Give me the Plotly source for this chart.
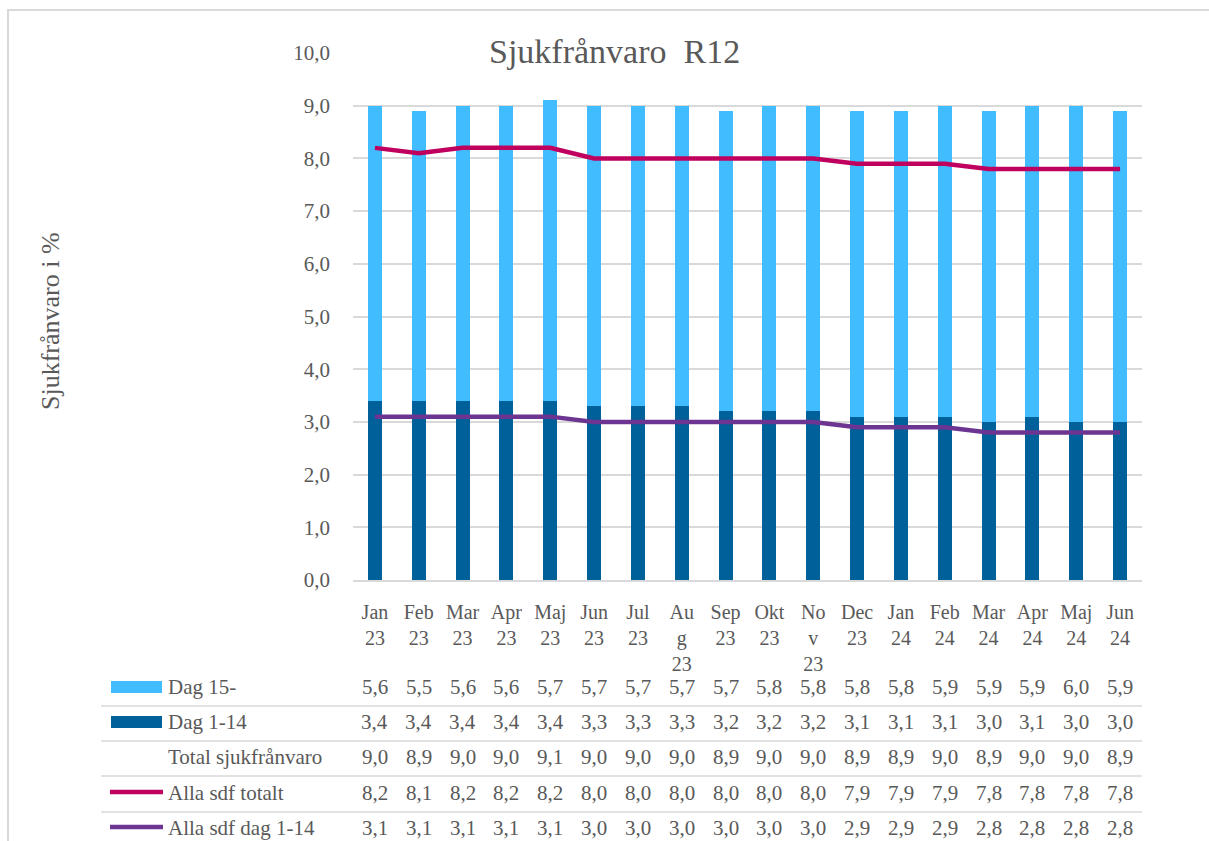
import plotly.graph_objects as go

categories = ["Jan<br>23", "Feb<br>23", "Mar<br>23", "Apr<br>23", "Maj<br>23", "Jun<br>23",
              "Jul<br>23", "Au<br>g<br>23", "Sep<br>23", "Okt<br>23", "No<br>v<br>23", "Dec<br>23",
              "Jan<br>24", "Feb<br>24", "Mar<br>24", "Apr<br>24", "Maj<br>24", "Jun<br>24"]
dag15 = [5.6, 5.5, 5.6, 5.6, 5.7, 5.7, 5.7, 5.7, 5.7, 5.8, 5.8, 5.8, 5.8, 5.9, 5.9, 5.9, 6.0, 5.9]
dag1_14 = [3.4, 3.4, 3.4, 3.4, 3.4, 3.3, 3.3, 3.3, 3.2, 3.2, 3.2, 3.1, 3.1, 3.1, 3.0, 3.1, 3.0, 3.0]
total = [9.0, 8.9, 9.0, 9.0, 9.1, 9.0, 9.0, 9.0, 8.9, 9.0, 9.0, 8.9, 8.9, 9.0, 8.9, 9.0, 9.0, 8.9]
alla_tot = [8.2, 8.1, 8.2, 8.2, 8.2, 8.0, 8.0, 8.0, 8.0, 8.0, 8.0, 7.9, 7.9, 7.9, 7.8, 7.8, 7.8, 7.8]
alla_1_14 = [3.1, 3.1, 3.1, 3.1, 3.1, 3.0, 3.0, 3.0, 3.0, 3.0, 3.0, 2.9, 2.9, 2.9, 2.8, 2.8, 2.8, 2.8]
y_ticks = [0, 1, 2, 3, 4, 5, 6, 7, 8, 9, 10]

FONT = "Liberation Serif"
TXT = "#595959"
GRID = "#D9D9D9"
C_LIGHT = "#41BCFF"
C_DARK = "#00609A"
C_MAG = "#C0005E"
C_PUR = "#6C3592"

x_idx = list(range(len(categories)))

fig = go.Figure()
fig.add_trace(go.Bar(x=x_idx, y=dag1_14, name="Dag 1-14", marker_color=C_DARK, marker_line_width=0))
fig.add_trace(go.Bar(x=x_idx, y=dag15, name="Dag 15-", marker_color=C_LIGHT, marker_line_width=0))
fig.add_trace(go.Scatter(x=x_idx, y=alla_tot, name="Alla sdf totalt", mode="lines",
                         line=dict(color=C_MAG, width=4.5)))
fig.add_trace(go.Scatter(x=x_idx, y=alla_1_14, name="Alla sdf dag 1-14", mode="lines",
                         line=dict(color=C_PUR, width=4.5)))

W, H = 1209, 841
L, R, T, B = 353, 67, 53, 261
pw = W - L - R
ph = H - T - B


def px2x(px):
    return (px - L) / pw


def py2y(py):
    return (H - B - py) / ph


annotations = []
shapes = []

# table rows
rows = [
    ("Dag 15-", dag15, 687, "bar", C_LIGHT),
    ("Dag 1-14", dag1_14, 722, "bar", C_DARK),
    ("Total sjukfrånvaro", total, 757, None, None),
    ("Alla sdf totalt", alla_tot, 793, "line", C_MAG),
    ("Alla sdf dag 1-14", alla_1_14, 828, "line", C_PUR),
]
for label, vals, py, kind, col in rows:
    yy = py2y(py)
    annotations.append(dict(x=px2x(166), y=yy, xref="paper", yref="paper", text=label,
                            showarrow=False, xanchor="left", yanchor="middle",
                            font=dict(family=FONT, size=21, color=TXT)))
    for i, v in enumerate(vals):
        annotations.append(dict(x=x_idx[i], y=yy, xref="x", yref="paper",
                                text=f"{v:.1f}".replace(".", ","), showarrow=False,
                                xanchor="center", yanchor="middle",
                                font=dict(family=FONT, size=21, color=TXT)))
    if kind == "bar":
        shapes.append(dict(type="rect", xref="paper", yref="paper",
                           x0=px2x(111), x1=px2x(162), y0=py2y(py - 6), y1=py2y(py + 6),
                           fillcolor=col, line=dict(width=0)))
    elif kind == "line":
        shapes.append(dict(type="line", xref="paper", yref="paper",
                           x0=px2x(110), x1=px2x(163), y0=py2y(py - 1), y1=py2y(py - 1),
                           line=dict(color=col, width=4.5)))

for py in [706, 741, 776, 812]:
    shapes.append(dict(type="line", xref="paper", yref="paper",
                       x0=px2x(101), x1=1.0, y0=py2y(py), y1=py2y(py),
                       line=dict(color=GRID, width=1.5)))

# outer frame
shapes.append(dict(type="rect", xref="paper", yref="paper",
                   x0=px2x(8), x1=px2x(1215), y0=py2y(10), y1=py2y(860),
                   line=dict(color=GRID, width=2), fillcolor="rgba(0,0,0,0)", layer="below"))

# title
annotations.append(dict(x=px2x(614), y=py2y(52), xref="paper", yref="paper",
                        text="Sjukfrånvaro  R12", showarrow=False, xanchor="center", yanchor="middle",
                        font=dict(family=FONT, size=34, color=TXT)))
# y-axis title
annotations.append(dict(x=px2x(50), y=py2y(321), xref="paper", yref="paper",
                        text="Sjukfrånvaro i %", showarrow=False, textangle=-90,
                        xanchor="center", yanchor="middle",
                        font=dict(family=FONT, size=26, color=TXT)))

fig.update_layout(
    width=W, height=H,
    margin=dict(l=L, r=R, t=T, b=B, autoexpand=False),
    barmode="stack", bargap=0.68,
    showlegend=False,
    paper_bgcolor="white", plot_bgcolor="white",
    separators=", ",
    annotations=annotations,
    shapes=shapes,
    xaxis=dict(tickmode="array", tickvals=x_idx, ticktext=categories,
               range=[-0.5, len(categories) - 0.5],
               showgrid=False, showline=True, linecolor=GRID, linewidth=1.5,
               ticks="", ticklabelstandoff=13,
               tickfont=dict(family=FONT, size=20, color=TXT), tickangle=0),
    yaxis=dict(range=[0, 10], tickvals=y_ticks, tickformat=".1f",
               showgrid=True, gridcolor=GRID, gridwidth=1.5, zeroline=False,
               showline=False, ticks="", ticklabelstandoff=22,
               tickfont=dict(family=FONT, size=21, color=TXT)),
)

fig.write_html("out.html", config={"displayModeBar": False},
               post_script="document.body.style.margin='0';document.body.style.overflow='hidden';")
